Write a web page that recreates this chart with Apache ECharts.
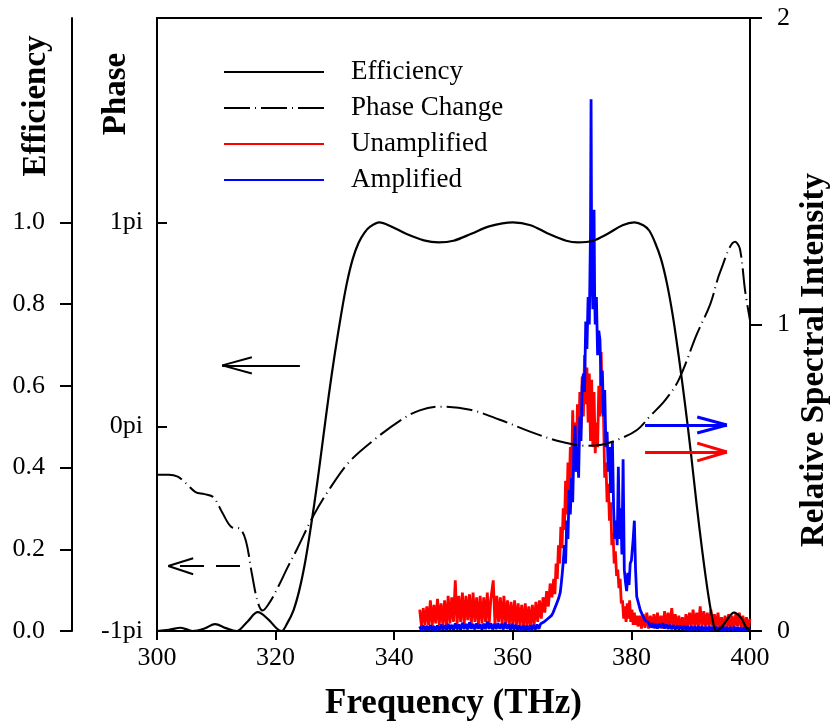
<!DOCTYPE html>
<html><head><meta charset="utf-8">
<script src="https://cdn.jsdelivr.net/npm/echarts@6/dist/echarts.min.js"></script>
<style>html,body{margin:0;padding:0;background:#fff}#c{width:833px;height:722px}</style>
</head><body><div id="c"></div>
<script>
// ---------- data ----------
const freqTicks = [300, 320, 340, 360, 380, 400];
const effTicks = [0, 0.2, 0.4, 0.6, 0.8, 1.0];
const phaseTicks = [-1, 0, 1];
const intensityTicks = [0, 1, 2];
const seriesNames = ['Efficiency', 'Phase Change', 'Unamplified', 'Amplified'];

const efficiency = [
 [300,0.0],[302,0.003],[304,0.008],[306,0.0],[308,0.006],[309.8,0.017],[311.6,0.007],[313.4,0.0],
 [315.2,0.022],[317.0,0.046],[318.8,0.028],[320.2,0.006],[321.0,0.0],[322,0.02],[323,0.05],
 [324,0.1],[325,0.17],[326,0.26],[327,0.36],[328,0.47],[329,0.58],[330,0.68],[331,0.77],
 [332,0.85],[333,0.91],[334,0.95],[335,0.975],[336,0.99],[337.5,1.0],[339.5,0.99],[342,0.972],
 [345,0.956],[347.5,0.951],[350,0.955],[353,0.972],[356,0.99],[360,1.0],[363,0.993],[366,0.972],
 [369,0.955],[371,0.951],[373.5,0.955],[376,0.972],[378.5,0.993],[380.5,1.0],[382,0.993],
 [383,0.98],[384,0.95],[385,0.91],[386,0.85],[387,0.77],[388,0.67],[389,0.56],[390,0.44],
 [391,0.31],[392,0.19],[393,0.085],[393.8,0.02],[394.3,0.0],[395,0.006],[396,0.025],
 [397.3,0.045],[398.5,0.032],[399.3,0.01],[400,0.0]
];

const phaseChange = [
 [300,-0.235],[302,-0.235],[303.5,-0.245],[305,-0.28],[306.5,-0.32],[308,-0.33],[309.5,-0.345],
 [311,-0.42],[312.5,-0.49],[314,-0.5],[315,-0.56],[316,-0.72],[317,-0.86],[317.8,-0.9],
 [319,-0.86],[320.5,-0.78],[322,-0.69],[323.6,-0.6],[326.3,-0.44],[329.2,-0.3],[332.5,-0.17],
 [336.8,-0.06],[341,0.03],[344.3,0.08],[347.7,0.098],[352.8,0.083],[357.8,0.034],[362.9,-0.024],
 [368,-0.073],[372.2,-0.093],[374.7,-0.09],[378,-0.06],[381,-0.015],[383.1,0.05],[385.7,0.13],
 [388,0.23],[391,0.45],[393.3,0.6],[395,0.76],[397.5,0.905],[398.3,0.87],[399.2,0.66],[400,0.52]
];

const unamplified = [
 [344.3,0.07],[344.6,0.015],[344.9,0.075],[345.2,0.02],[345.5,0.08],[345.8,0.02],[346.1,0.1],
 [346.4,0.015],[346.7,0.085],[347.0,0.025],[347.3,0.105],[347.6,0.02],[347.9,0.09],[348.2,0.02],
 [348.5,0.1],[348.8,0.015],[349.1,0.115],[349.4,0.025],[349.7,0.11],[350.0,0.03],[350.3,0.165],
 [350.6,0.02],[350.9,0.115],[351.2,0.03],[351.5,0.125],[351.8,0.02],[352.1,0.115],[352.4,0.035],
 [352.7,0.12],[353.0,0.02],[353.3,0.125],[353.6,0.03],[353.9,0.11],[354.2,0.02],[354.5,0.115],
 [354.8,0.025],[355.1,0.11],[355.4,0.03],[355.7,0.125],[356.0,0.02],[356.3,0.105],[356.7,0.165],
 [357.0,0.02],[357.3,0.115],[357.6,0.03],[357.9,0.11],[358.2,0.02],[358.5,0.115],[358.8,0.025],
 [359.1,0.1],[359.4,0.015],[359.7,0.095],[360.0,0.02],[360.3,0.1],[360.6,0.015],[360.9,0.09],
 [361.2,0.02],[361.5,0.085],[361.8,0.01],[362.1,0.09],[362.4,0.015],[362.7,0.08],[363.0,0.01],
 [363.3,0.085],[363.6,0.02],[363.9,0.095],[364.2,0.03],[364.5,0.1],[364.8,0.04],[365.1,0.11],
 [365.4,0.06],[365.7,0.13],[366.0,0.08],[366.3,0.155],[366.6,0.11],
 [366.9,0.17],[367.1,0.12],[367.3,0.22],[367.5,0.17],[367.7,0.28],[367.9,0.22],[368.1,0.34],
 [368.3,0.27],[368.5,0.4],[368.7,0.33],[368.9,0.49],[369.1,0.38],[369.3,0.55],[369.5,0.45],
 [369.7,0.6],[369.9,0.5],[370.1,0.72],[370.3,0.55],[370.5,0.68],[370.7,0.52],[370.9,0.74],
 [371.1,0.6],[371.3,0.78],[371.5,0.66],[371.7,0.83],[371.9,0.7],[372.1,0.9],[372.3,0.74],
 [372.5,0.86],[372.7,0.68],[372.9,0.84],[373.1,0.62],[373.3,0.82],[373.5,0.6],[373.7,0.78],
 [373.9,0.58],[374.1,0.68],[374.3,0.6],[374.5,0.8],[374.7,0.7],[374.9,0.91],[375.1,0.72],
 [375.3,0.7],[375.5,0.5],[375.7,0.55],[375.9,0.42],[376.1,0.48],[376.3,0.36],[376.5,0.42],
 [376.7,0.28],[376.9,0.32],[377.1,0.22],[377.3,0.26],[377.5,0.18],[377.7,0.2],[377.9,0.14],
 [378.1,0.17],[378.3,0.09],[378.5,0.1],[378.7,0.04],[378.9,0.08],[379.1,0.03],[379.3,0.09],
 [379.5,0.04],[379.7,0.1],[379.9,0.03],[380.1,0.07],[380.3,0.02],[380.5,0.06],[380.7,0.02],
 [380.9,0.05],[381.1,0.015],
 [381.4,0.05],[381.7,0.008],[382.0,0.055],[382.3,0.01],[382.6,0.06],[382.9,0.008],[383.2,0.05],
 [383.5,0.01],[383.8,0.055],[384.1,0.008],[384.4,0.06],[384.7,0.01],[385.0,0.05],[385.3,0.008],
 [385.6,0.065],[385.9,0.015],[386.2,0.06],[386.5,0.01],[386.8,0.075],[387.1,0.015],[387.4,0.055],
 [387.7,0.008],[388.0,0.05],[388.3,0.01],[388.6,0.045],[388.9,0.008],[389.2,0.055],[389.5,0.01],
 [389.8,0.06],[390.1,0.015],[390.4,0.07],[390.7,0.01],[391.0,0.06],[391.3,0.015],[391.6,0.08],
 [391.9,0.01],[392.2,0.065],[392.5,0.015],[392.8,0.06],[393.1,0.01],[393.4,0.07],[393.7,0.015],
 [394.0,0.055],[394.3,0.01],[394.6,0.06],[394.9,0.008],[395.2,0.045],[395.5,0.01],[395.8,0.05],
 [396.1,0.008],[396.4,0.055],[396.7,0.01],[397.0,0.05],[397.3,0.008],[397.6,0.055],[397.9,0.015],
 [398.2,0.06],[398.5,0.01],[398.8,0.05],[399.1,0.008],[399.4,0.045],[399.7,0.008],[400.0,0.04]
];

const amplified = [
 [344.3,0.015],[344.6,0.002],[344.9,0.018],[345.2,0.003],[345.5,0.017],[345.8,0.002],[346.1,0.019],
 [346.4,0.003],[346.7,0.016],[347.0,0.002],[347.3,0.018],[347.6,0.003],[347.9,0.021],[348.2,0.004],
 [348.5,0.019],[348.8,0.003],[349.1,0.023],[349.4,0.005],[349.7,0.02],[350.0,0.004],[350.3,0.025],
 [350.6,0.005],[350.9,0.021],[351.2,0.004],[351.5,0.027],[351.8,0.006],[352.1,0.023],[352.4,0.005],
 [352.7,0.028],[353.0,0.007],[353.3,0.023],[353.6,0.005],[353.9,0.025],[354.2,0.007],[354.5,0.022],
 [354.8,0.004],[355.1,0.024],[355.4,0.006],[355.7,0.031],[356.0,0.007],[356.3,0.025],[356.6,0.005],
 [356.9,0.023],[357.2,0.006],[357.5,0.026],[357.8,0.007],[358.1,0.023],[358.4,0.005],[358.7,0.027],
 [359.0,0.007],[359.3,0.021],[359.6,0.004],[359.9,0.023],[360.2,0.005],[360.5,0.02],[360.8,0.003],
 [361.1,0.018],[361.4,0.002],[361.7,0.019],[362.0,0.003],[362.3,0.017],[362.6,0.002],[362.9,0.018],
 [363.2,0.003],[363.5,0.02],[363.8,0.005],[364.1,0.021],[364.4,0.007],[364.7,0.024],[365.0,0.018],
 [365.3,0.03],[365.6,0.032],[365.9,0.04],[366.2,0.045],[366.5,0.05],[366.8,0.06],[367.1,0.075],
 [367.4,0.09],[367.7,0.105],[368.0,0.125],[368.2,0.16],[368.4,0.2],[368.6,0.25],
 [368.7,0.28],[368.9,0.22],[369.1,0.36],[369.3,0.3],[369.5,0.46],[369.7,0.38],[369.9,0.5],
 [370.1,0.42],[370.3,0.6],[370.5,0.67],[370.7,0.52],[370.9,0.6],[371.1,0.5],[371.3,0.7],
 [371.5,0.62],[371.7,0.8],[371.9,0.84],[372.1,0.78],[372.3,1.01],[372.5,0.92],[372.7,1.09],
 [372.9,1.0],[373.1,1.3],[373.2,1.735],[373.3,1.2],[373.5,1.05],[373.7,1.374],[373.8,1.1],
 [373.9,1.0],[374.1,1.09],[374.3,0.9],[374.5,0.98],[374.7,0.95],[374.9,0.8],[375.1,0.85],
 [375.3,0.7],[375.5,0.786],[375.7,0.6],[375.9,0.65],[376.1,0.52],[376.3,0.6],[376.5,0.45],
 [376.8,0.62],[377.0,0.4],[377.2,0.3],[377.4,0.36],[377.6,0.28],[377.8,0.536],[378.0,0.3],
 [378.2,0.4],[378.4,0.25],[378.6,0.56],[378.8,0.2],[379.0,0.16],[379.2,0.13],[379.4,0.19],
 [379.6,0.15],[379.8,0.22],[380.0,0.23],[380.3,0.3],[380.5,0.36],[380.7,0.2],[380.9,0.112],
 [381.2,0.09],[381.5,0.068],[381.9,0.05],[382.3,0.035],[382.6,0.03],
 [382.9,0.028],[383.2,0.012],[383.5,0.025],[383.8,0.01],[384.1,0.023],[384.4,0.008],[384.7,0.023],
 [385.0,0.01],[385.3,0.025],[385.6,0.008],[385.9,0.021],[386.2,0.007],[386.5,0.02],[386.8,0.006],
 [387.1,0.019],[387.4,0.005],[387.7,0.018],[388.0,0.005],[388.3,0.017],[388.6,0.004],[388.9,0.016],
 [389.2,0.004],[389.5,0.015],[389.8,0.003],[390.1,0.015],[390.4,0.003],[390.7,0.014],[391.0,0.003],
 [391.3,0.015],[391.6,0.002],[391.9,0.014],[392.2,0.002],[392.5,0.013],[392.8,0.002],[393.1,0.014],
 [393.4,0.003],[393.7,0.013],[394.0,0.002],[394.3,0.013],[394.6,0.002],[394.9,0.012],[395.2,0.002],
 [395.5,0.013],[395.8,0.002],[396.1,0.012],[396.4,0.002],[396.7,0.012],[397.0,0.002],[397.3,0.013],
 [397.6,0.002],[397.9,0.012],[398.2,0.002],[398.5,0.011],[398.8,0.002],[399.1,0.011],[399.4,0.002],
 [399.7,0.01],[400.0,0.003]
];

// annotation arrows (data coordinates): [tail, tip, wing1, wing2]
const effArrow = [[324.1,0.65],[311.0,0.65],[316.0,0.670],[316.0,0.630]];
const phaseArrow = [[314.0,0.159],[301.9,0.159],[306.1,0.178],[306.1,0.139]];
const blueArrow = [[382.3,0.672],[396.1,0.672],[391.1,0.698],[391.1,0.646]];
const redArrow = [[382.3,0.584],[396.1,0.584],[391.1,0.613],[391.1,0.555]];

// ---------- chart ----------
const FONT = '"Liberation Serif", "Times New Roman", serif';
const chart = echarts.init(document.getElementById('c'), null, {renderer: 'canvas'});

function arrowLines(a, style, shaftStyle) {
  return [
    [{coord: a[0], lineStyle: shaftStyle || style}, {coord: a[1]}],
    [{coord: a[1], lineStyle: style}, {coord: a[2]}],
    [{coord: a[1], lineStyle: style}, {coord: a[3]}]
  ];
}

const axisLineStyle = {color: '#000', width: 2};
const labelStyle = {color: '#000', fontFamily: FONT, fontSize: 26};

chart.setOption({
  animation: false,
  backgroundColor: '#fff',
  grid: {left: 157, right: 83, top: 18, bottom: 91, containLabel: false, outerBoundsMode: 'none'},
  legend: {
    orient: 'vertical', left: 223, top: 58, padding: 0,
    itemWidth: 100, itemHeight: 28, itemGap: 8,
    data: seriesNames,
    itemStyle: {opacity: 0, borderWidth: 0},
    textStyle: {color: '#000', fontFamily: FONT, fontSize: 27, lineHeight: 28, padding: [0, 0, 0, 22]}
  },
  xAxis: [{
    type: 'value', position: 'bottom', min: 300, max: 400, interval: 20,
    axisLine: {show: true, onZero: false, lineStyle: axisLineStyle},
    axisTick: {show: true, inside: false, length: 9, lineStyle: {width: 2, color: '#000'}},
    axisLabel: Object.assign({margin: 14, formatter: v => String(v)}, labelStyle),
    splitLine: {show: false},
    name: 'Frequency (THz)', nameLocation: 'middle', nameGap: 55,
    nameTextStyle: {color: '#000', fontFamily: FONT, fontSize: 35, fontWeight: 'bold'}
  }, {
    type: 'value', position: 'top', min: 300, max: 400,
    axisLine: {show: true, onZero: false, lineStyle: axisLineStyle},
    axisTick: {show: false}, axisLabel: {show: false}, splitLine: {show: false}
  }],
  yAxis: [{
    type: 'value', position: 'left', offset: 85, min: 0, max: 1.5,
    axisLine: {show: true, onZero: false, lineStyle: axisLineStyle},
    axisTick: {show: true, inside: false, length: 12, customValues: effTicks, lineStyle: {width: 2, color: '#000'}},
    axisLabel: Object.assign({margin: 27, customValues: effTicks, formatter: v => v.toFixed(1)}, labelStyle),
    splitLine: {show: false}
  }, {
    type: 'value', position: 'left', offset: 0, min: -1, max: 2,
    axisLine: {show: true, onZero: false, lineStyle: axisLineStyle},
    axisTick: {show: true, inside: true, length: 10, customValues: phaseTicks, lineStyle: {width: 2, color: '#000'}},
    axisLabel: Object.assign({margin: 14, customValues: phaseTicks, formatter: v => v + 'pi'}, labelStyle),
    splitLine: {show: false}
  }, {
    type: 'value', position: 'right', offset: 0, min: 0, max: 2, interval: 1,
    axisLine: {show: true, onZero: false, lineStyle: axisLineStyle},
    axisTick: {show: true, inside: false, length: 12, lineStyle: {width: 2, color: '#000'}},
    axisLabel: Object.assign({margin: 27, formatter: v => String(v)}, labelStyle),
    splitLine: {show: false}
  }],
  series: [{
    name: seriesNames[0], type: 'line', xAxisIndex: 0, yAxisIndex: 0, data: efficiency,
    symbol: 'none', smooth: 0.35, z: 3,
    lineStyle: {color: '#000', width: 2.2}, itemStyle: {color: '#000'},
    markLine: {
      silent: true, symbol: ['none', 'none'], label: {show: false},
      data: arrowLines(effArrow, {color: '#000', width: 2, type: 'solid'})
        .concat(arrowLines(phaseArrow, {color: '#000', width: 2, type: 'solid'},
                                       {color: '#000', width: 2, type: [24, 12]}))
    }
  }, {
    name: seriesNames[1], type: 'line', xAxisIndex: 0, yAxisIndex: 1, data: phaseChange,
    symbol: 'none', smooth: 0.35, z: 3,
    lineStyle: {color: '#000', width: 2, type: [26, 5, 1, 5]}, itemStyle: {color: '#000'}
  }, {
    name: seriesNames[2], type: 'line', xAxisIndex: 0, yAxisIndex: 2, data: unamplified,
    symbol: 'none', z: 2,
    lineStyle: {color: '#ff0000', width: 2.8}, itemStyle: {color: '#ff0000'},
    markLine: {
      silent: true, symbol: ['none', 'none'], label: {show: false},
      data: arrowLines(redArrow, {color: '#ff0000', width: 3, type: 'solid'})
    }
  }, {
    name: seriesNames[3], type: 'line', xAxisIndex: 0, yAxisIndex: 2, data: amplified,
    symbol: 'none', z: 2,
    lineStyle: {color: '#0000ff', width: 2.8}, itemStyle: {color: '#0000ff'},
    markLine: {
      silent: true, symbol: ['none', 'none'], label: {show: false},
      data: arrowLines(blueArrow, {color: '#0000ff', width: 3, type: 'solid'})
    }
  }],
  graphic: [{
    type: 'text', x: 36, y: 106, rotation: Math.PI / 2,
    style: {text: 'Efficiency', font: 'bold 33px ' + FONT, fill: '#000', align: 'center', verticalAlign: 'middle'}
  }, {
    type: 'text', x: 116, y: 94, rotation: Math.PI / 2,
    style: {text: 'Phase', font: 'bold 33px ' + FONT, fill: '#000', align: 'center', verticalAlign: 'middle'}
  }, {
    type: 'text', x: 814, y: 360, rotation: Math.PI / 2,
    style: {text: 'Relative Spectral Intensity', font: 'bold 33px ' + FONT, fill: '#000', align: 'center', verticalAlign: 'middle'}
  }]
});
</script></body></html>
